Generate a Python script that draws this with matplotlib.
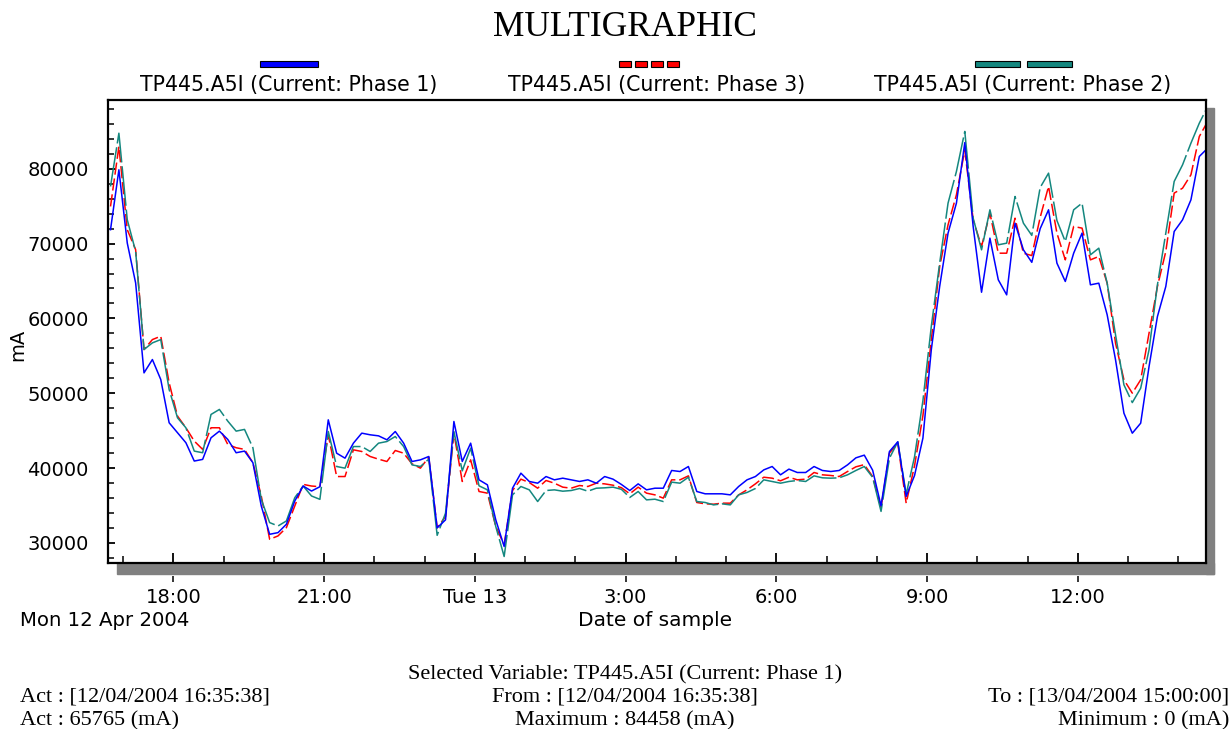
import matplotlib
matplotlib.use("Agg")
import matplotlib.pyplot as plt
import matplotlib.dates as mdates
from matplotlib.patches import Rectangle
from matplotlib.ticker import MultipleLocator, FuncFormatter
import pandas as pd

# samples every 10 minutes starting 12/04/2004 16:45
start = "2004-04-12 16:45"
step = "10min"

phase1 = [71860, 79870, 70080, 64740, 52720, 54500, 51830, 46050, 44710, 43380,
          40930, 41150, 44040, 44930, 43820, 42040, 42260, 40710, 34920, 31140,
          31360, 32480, 35590, 37590, 36920, 37500, 46440, 41980, 41315, 43320,
          44660, 44440, 44300, 43770, 44880, 43320, 40870, 41090, 41540, 32000,
          33070, 46220, 40870, 43320, 38420, 37750, 33070, 29510, 37300, 39310,
          38200, 37970, 38860, 38420, 38640, 38420, 38200, 38420, 37970, 38860,
          38510, 37800, 36990, 37880, 37080, 37300, 37300, 39670, 39530, 40200,
          36860, 36550, 36550, 36550, 36410, 37530, 38420, 38860, 39750, 40200,
          39090, 39850, 39400, 39400, 40200, 39670, 39530, 39670, 40420, 41360,
          41720, 39700, 34950, 42200, 43500, 36200, 39000, 44000, 55800, 64270,
          71400, 75410, 83500, 72290, 63500, 70730, 65160, 63150, 72730, 69170,
          67500, 72000, 74520, 67390, 64940, 68720, 71400, 64490, 64710, 60480,
          54460, 47330, 44655, 45990, 53570, 60250, 64270, 71620, 73180, 75850,
          81650, 82760]

phase3 = [74970, 82980, 71860, 69190, 55840, 57170, 57620, 51390, 46940, 45380,
          43600, 42490, 45380, 45380, 43150, 42710, 42490, 40710, 36260, 30470,
          30920, 32030, 34920, 37810, 37590, 37500, 44435, 38860, 38860, 42430,
          42210, 41540, 41180, 40870, 42340, 41980, 40560, 39980, 41450, 32000,
          33520, 44660, 38200, 41090, 36860, 36640, 32180, 29730, 36990, 38510,
          38060, 37300, 38330, 37970, 37440, 37300, 37660, 37530, 37970, 37880,
          37700, 37370, 36550, 37440, 36640, 36410, 35970, 38420, 38420, 38950,
          35390, 35210, 35160, 35300, 35300, 36410, 37080, 37880, 38770, 38640,
          38290, 38770, 38420, 38510, 39400, 39090, 39000, 38860, 39530, 40160,
          40450, 38860, 34700, 42000, 43300, 35300, 40300, 47000, 57130, 66940,
          72510, 76520, 82500, 73180, 69610, 74070, 68720, 68720, 73400, 68720,
          68400, 73500, 77640, 71400, 67830, 72290, 72070, 67830, 68280, 64710,
          56690, 51790, 50010, 51790, 58030, 64270, 68950, 76750, 77410, 79200,
          84320, 86330]

phase2 = [77640, 84760, 73190, 68960, 55840, 56730, 57170, 50500, 46710, 45380,
          42260, 42040, 47160, 47830, 46270, 44930, 45160, 42710, 35810, 32700,
          32250, 32920, 36030, 37590, 36260, 35810, 44880, 40200, 39980, 42870,
          42870, 42210, 43320, 43540, 44210, 42870, 40420, 40200, 41180, 31000,
          33960, 44880, 39620, 42650, 37620, 37080, 32180, 28170, 36410, 37530,
          37080, 35520, 36990, 37080, 36900, 36990, 37260, 36900, 37300, 37350,
          37440, 37150, 36060, 36860, 35740, 35830, 35520, 38110, 37970, 38770,
          35520, 35390, 35070, 35210, 35070, 36410, 36730, 37260, 38420, 38200,
          37970, 38200, 38330, 38200, 38950, 38690, 38640, 38690, 39090, 39670,
          40200, 38750, 34200, 41300, 43500, 36500, 41500, 49000, 58920, 67390,
          75410, 79640, 85000, 73400, 69170, 74520, 69840, 70060, 76300, 72730,
          71100, 77500, 79420, 73090, 70280, 74520, 75410, 68500, 69390, 64710,
          57800, 51120, 48750, 50670, 55800, 64490, 71400, 78310, 80530, 83430,
          86100, 88330]

series_labels = ["TP445.A5I (Current: Phase 1)", "TP445.A5I (Current: Phase 3)",
                 "TP445.A5I (Current: Phase 2)"]
footer = ["Selected Variable: TP445.A5I (Current: Phase 1)",
          "Act : [12/04/2004 16:35:38]", "From : [12/04/2004 16:35:38]", "To : [13/04/2004 15:00:00]",
          "Act : 65765 (mA)", "Maximum : 84458 (mA)", "Minimum : 0 (mA)"]

times = pd.date_range(start, periods=len(phase1), freq=step)

W, H = 1231, 729
BLUE, RED, TEAL = "#0000ff", "#ff0000", "#14877f"


def fx(x):
    return x / W


def fy(y):
    return 1 - y / H


fig = plt.figure(figsize=(W / 100, H / 100), dpi=100)

# drop shadow of the plot frame
fig.add_artist(Rectangle((fx(117), fy(574)), fx(1214 - 117), 11 / H,
                         transform=fig.transFigure, color="#808080", zorder=0))
fig.add_artist(Rectangle((fx(1206), fy(574)), fx(8), (574 - 108) / H,
                         transform=fig.transFigure, color="#808080", zorder=0))

ax = fig.add_axes([fx(108), fy(563), fx(1206 - 108), (563 - 100) / H])
ax.set_zorder(2)

ax.plot(times, phase3, color=RED, lw=1.1, dashes=(8, 2.5))
ax.plot(times, phase2, color=TEAL, lw=1.1, dashes=(26, 2.5))
ax.plot(times, phase1, color=BLUE, lw=1.1)

ax.set_xlim(pd.Timestamp("2004-04-12 16:42"), pd.Timestamp("2004-04-13 14:33"))
ax.set_ylim(27300, 89200)

ax.yaxis.set_major_locator(MultipleLocator(10000))
ax.yaxis.set_minor_locator(MultipleLocator(2000))
ax.xaxis.set_major_locator(mdates.HourLocator(byhour=range(0, 24, 3)))
ax.xaxis.set_minor_locator(mdates.HourLocator())


def hour_fmt(x, pos):
    d = mdates.num2date(x)
    if d.hour == 0:
        return d.strftime("%a ") + str(d.day)
    return f"{d.hour}:00"


ax.xaxis.set_major_formatter(FuncFormatter(hour_fmt))
ax.yaxis.set_major_formatter(FuncFormatter(lambda v, p: f"{v:.0f}"))

for s in ax.spines.values():
    s.set_linewidth(1.6)
ax.tick_params(axis="x", which="major", direction="in", length=7.5, width=1.3,
               pad=18, labelsize=14)
ax.tick_params(axis="x", which="minor", direction="in", length=5, width=1.1)
ax.tick_params(axis="y", which="major", direction="in", length=5, width=1.3,
               pad=14, labelsize=14)
ax.tick_params(axis="y", which="minor", direction="in", length=4, width=1.1)

# little marks under the shadow band at each major tick
ax.vlines(ax.get_xticks(), -0.029, -0.04, transform=ax.get_xaxis_transform(),
          color="black", lw=1.1, clip_on=False)

fig.text(fx(20), fy(620), "Mon 12 Apr 2004", fontsize=14.2, va="center", ha="left")
fig.text(fx(655), fy(620), "Date of sample", fontsize=14.5, va="center", ha="center")
fig.text(fx(18), fy(345), "mA", fontsize=14, va="center", ha="center", rotation=90)

fig.text(fx(625), fy(27), "MULTIGRAPHIC", family="Liberation Serif", fontsize=25.5,
         va="center", ha="center")

# legend: swatches above each label
label_x = [289, 657, 1023]
for lx, lab in zip(label_x, series_labels):
    fig.text(fx(lx), fy(85), lab, fontsize=14.8, va="center", ha="center")
fig.add_artist(Rectangle((fx(260), fy(67)), fx(58), 6 / H, transform=fig.transFigure,
                         facecolor=BLUE, edgecolor="black", lw=0.8))
for i in range(4):
    fig.add_artist(Rectangle((fx(619 + i * 16), fy(67)), fx(12), 6 / H,
                             transform=fig.transFigure, facecolor=RED,
                             edgecolor="black", lw=0.8))
for i in range(2):
    fig.add_artist(Rectangle((fx(975 + i * 52), fy(67)), fx(45), 6 / H,
                             transform=fig.transFigure, facecolor=TEAL,
                             edgecolor="black", lw=0.8))

serif = dict(family="Liberation Serif", fontsize=16, va="center")
fig.text(fx(625), fy(675), footer[0], ha="center", **serif)
fig.text(fx(20), fy(697), footer[1], ha="left", **serif)
fig.text(fx(625), fy(697), footer[2], ha="center", **serif)
fig.text(fx(1229), fy(697), footer[3], ha="right", **serif)
fig.text(fx(20), fy(721), footer[4], ha="left", **serif)
fig.text(fx(625), fy(721), footer[5], ha="center", **serif)
fig.text(fx(1229), fy(721), footer[6], ha="right", **serif)

fig.savefig("out.png", dpi=100)
